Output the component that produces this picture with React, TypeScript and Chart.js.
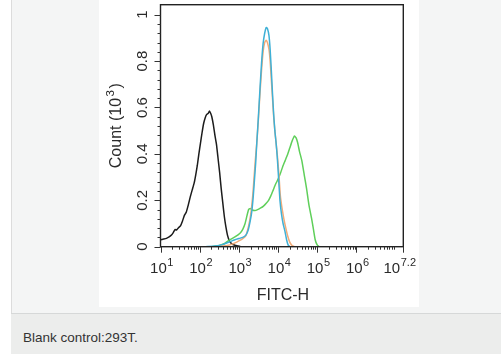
import React, { useEffect, useRef } from "react";
import { Chart, registerables } from "chart.js";

Chart.register(...registerables);

// x positions are given as log10(FITC-H); y values are Count (10^3)
const blackExp = [1.0, 1.08, 1.15, 1.22, 1.28, 1.33, 1.37, 1.41, 1.46, 1.51, 1.56, 1.61, 1.66, 1.71, 1.76, 1.81, 1.86, 1.9, 1.94, 1.98, 2.02, 2.06, 2.1, 2.14, 2.18, 2.22, 2.25, 2.28, 2.31, 2.35, 2.39, 2.43, 2.47, 2.51, 2.55, 2.59, 2.63, 2.67, 2.71, 2.76, 2.82, 2.9, 2.98, 3.05];
const blackCount = [0.03, 0.033, 0.036, 0.042, 0.05, 0.062, 0.074, 0.072, 0.082, 0.09, 0.11, 0.135, 0.15, 0.18, 0.215, 0.245, 0.275, 0.31, 0.35, 0.4, 0.445, 0.49, 0.53, 0.555, 0.57, 0.575, 0.585, 0.575, 0.56, 0.525, 0.48, 0.44, 0.38, 0.32, 0.25, 0.19, 0.13, 0.085, 0.05, 0.025, 0.012, 0.006, 0.003, 0.0];

const blueExp = [2.15, 2.4, 2.6, 2.75, 2.9, 3.0, 3.1, 3.18, 3.24, 3.29, 3.33, 3.37, 3.4, 3.43, 3.46, 3.5, 3.54, 3.58, 3.62, 3.66, 3.7, 3.73, 3.77, 3.8, 3.83, 3.86, 3.89, 3.92, 3.95, 3.98, 4.01, 4.05, 4.09, 4.13, 4.18, 4.22, 4.26, 4.3];
const blueCount = [0.0, 0.003, 0.01, 0.02, 0.03, 0.035, 0.04, 0.05, 0.072, 0.11, 0.15, 0.22, 0.29, 0.36, 0.45, 0.56, 0.68, 0.79, 0.875, 0.92, 0.945, 0.94, 0.91, 0.85, 0.76, 0.66, 0.57, 0.5, 0.45, 0.39, 0.31, 0.2, 0.14, 0.1, 0.065, 0.03, 0.007, 0.0];

const orangeExp = [2.4, 2.7, 2.85, 3.0, 3.1, 3.18, 3.23, 3.28, 3.32, 3.36, 3.39, 3.42, 3.46, 3.5, 3.54, 3.58, 3.62, 3.66, 3.7, 3.73, 3.77, 3.8, 3.83, 3.86, 3.89, 3.92, 3.95, 3.98, 4.02, 4.06, 4.1, 4.15, 4.2, 4.25, 4.3, 4.36, 4.42];
const orangeCount = [0.0, 0.005, 0.012, 0.025, 0.035, 0.048, 0.075, 0.115, 0.16, 0.23, 0.3, 0.37, 0.45, 0.55, 0.66, 0.76, 0.84, 0.88, 0.89, 0.88, 0.85, 0.8, 0.72, 0.64, 0.56, 0.5, 0.45, 0.4, 0.32, 0.22, 0.17, 0.12, 0.08, 0.045, 0.02, 0.005, 0.0];

const greenExp = [2.3, 2.5, 2.65, 2.77, 2.9, 3.03, 3.1, 3.16, 3.21, 3.25, 3.29, 3.34, 3.41, 3.48, 3.56, 3.63, 3.7, 3.76, 3.82, 3.88, 3.94, 4.0, 4.06, 4.12, 4.18, 4.24, 4.3, 4.36, 4.42, 4.46, 4.5, 4.55, 4.61, 4.67, 4.73, 4.79, 4.86, 4.91, 4.95, 5.0, 5.05];
const greenCount = [0.0, 0.005, 0.015, 0.03, 0.042, 0.058, 0.075, 0.1, 0.135, 0.16, 0.165, 0.158, 0.156, 0.16, 0.167, 0.175, 0.187, 0.2, 0.22, 0.245, 0.27, 0.29, 0.315, 0.345, 0.37, 0.395, 0.425, 0.455, 0.477, 0.47, 0.45, 0.41, 0.37, 0.31, 0.25, 0.18, 0.12, 0.07, 0.03, 0.008, 0.0];

const xTickExps = [1, 2, 3, 4, 5, 6, 7.2];
const xTickSups = ["1", "2", "3", "4", "5", "6", "7.2"];
const xMinorDecades = [1, 2, 3, 4, 5, 6];
const yTickValues = [0, 0.2, 0.4, 0.6, 0.8, 1];
const yTickLabels = ["0", "0.2", "0.4", "0.6", "0.8", "1"];
const xTitle = "FITC-H";
const yTitleMain = "Count (10";
const yTitleSup = "3";
const yTitleEnd = ")";
const caption = "Blank control:293T.";

const FONT = 'Arial, "Liberation Sans", sans-serif';

const toPoints = (exps: number[], vals: number[]) =>
  exps.map((e, i) => ({ x: Math.pow(10, e), y: vals[i] }));

const axesPlugin = {
  id: "flowAxes",
  afterDatasetsDraw(chart: any) {
    const { ctx, chartArea: a, scales } = chart;
    const xs = scales.x;
    const ys = scales.y;
    const cw = chart.width;
    ctx.save();
    // frame
    ctx.strokeStyle = "#222";
    ctx.lineWidth = 1.4;
    ctx.strokeRect(a.left, a.top, a.right - a.left, a.bottom - a.top);

    ctx.strokeStyle = "#333";
    ctx.lineWidth = 1;
    // y ticks
    for (let i = 0; i <= 25; i++) {
      const v = i * 0.04;
      const major = i % 5 === 0;
      const py = Math.round(ys.getPixelForValue(v)) + 0.5;
      ctx.beginPath();
      ctx.moveTo(a.left - (major ? 6 : 3), py);
      ctx.lineTo(a.left, py);
      ctx.stroke();
    }
    // x ticks
    xTickExps.forEach((e) => {
      const px = Math.round(xs.getPixelForValue(Math.pow(10, e))) + 0.5;
      ctx.beginPath();
      ctx.moveTo(px, a.bottom);
      ctx.lineTo(px, a.bottom + 6);
      ctx.stroke();
    });
    xMinorDecades.forEach((d) => {
      for (let k = 2; k <= 9; k++) {
        const px = Math.round(xs.getPixelForValue(k * Math.pow(10, d))) + 0.5;
        ctx.beginPath();
        ctx.moveTo(px, a.bottom);
        ctx.lineTo(px, a.bottom + 3);
        ctx.stroke();
      }
    });

    ctx.fillStyle = "#2a2a2a";
    // x tick labels
    xTickExps.forEach((e, i) => {
      const px = xs.getPixelForValue(Math.pow(10, e));
      ctx.font = `15px ${FONT}`;
      const w1 = ctx.measureText("10").width;
      ctx.font = `11px ${FONT}`;
      const w2 = ctx.measureText(xTickSups[i]).width;
      let start = px - (w1 + w2) / 2 + 1;
      if (start + w1 + w2 + 0.5 > cw - 3) start = cw - 3 - w1 - w2 - 0.5;
      ctx.textAlign = "left";
      ctx.textBaseline = "alphabetic";
      ctx.font = `15px ${FONT}`;
      ctx.fillText("10", start, a.bottom + 26);
      ctx.font = `11px ${FONT}`;
      ctx.fillText(xTickSups[i], start + w1 + 0.5, a.bottom + 19.5);
    });
    // y tick labels (rotated)
    yTickValues.forEach((v, i) => {
      const py = ys.getPixelForValue(v);
      ctx.save();
      ctx.translate(a.left - 14, py);
      ctx.rotate(-Math.PI / 2);
      ctx.font = `15px ${FONT}`;
      ctx.textAlign = "center";
      ctx.textBaseline = "alphabetic";
      ctx.fillText(yTickLabels[i], 0, 0);
      ctx.restore();
    });
    // x title
    ctx.font = `16px ${FONT}`;
    ctx.textAlign = "center";
    ctx.textBaseline = "alphabetic";
    ctx.fillText(xTitle, (a.left + a.right) / 2 + 1, a.bottom + 53);
    // y title
    ctx.save();
    ctx.translate(a.left - 40, (a.top + a.bottom) / 2);
    ctx.rotate(-Math.PI / 2);
    ctx.textAlign = "left";
    ctx.font = `16px ${FONT}`;
    const m1 = ctx.measureText(yTitleMain).width;
    const m3 = ctx.measureText(yTitleEnd).width;
    ctx.font = `11.5px ${FONT}`;
    const m2 = ctx.measureText(yTitleSup).width;
    const gap = 1.5;
    const x0 = -(m1 + m2 + m3 + 2 * gap) / 2;
    ctx.font = `16px ${FONT}`;
    ctx.fillText(yTitleMain, x0, 0);
    ctx.font = `11.5px ${FONT}`;
    ctx.fillText(yTitleSup, x0 + m1 + gap, -7);
    ctx.font = `16px ${FONT}`;
    ctx.fillText(yTitleEnd, x0 + m1 + m2 + 2 * gap, 0);
    ctx.restore();

    ctx.restore();
  },
};

export default function App() {
  const ref = useRef<HTMLCanvasElement>(null);
  useEffect(() => {
    const canvas = ref.current;
    if (!canvas) return;
    const chart = new Chart(canvas, {
      type: "line",
      data: {
        datasets: [
          { label: "blue", data: toPoints(blueExp, blueCount), borderColor: "#3fb0d6" },
          { label: "orange", data: toPoints(orangeExp, orangeCount), borderColor: "#f2ab78" },
          { label: "green", data: toPoints(greenExp, greenCount), borderColor: "#5fcf5a" },
          { label: "black", data: toPoints(blackExp, blackCount), borderColor: "#1c1c1c" },
        ],
      },
      options: {
        responsive: false,
        animation: false,
        layout: { padding: { left: 61.5, right: 15.7, top: 4.7, bottom: 60.3 } },
        plugins: { legend: { display: false }, tooltip: { enabled: false } },
        elements: {
          point: { radius: 0, hoverRadius: 0 },
          line: { borderWidth: 1.5, tension: 0.15, fill: false },
        },
        scales: {
          x: { type: "logarithmic", min: 10, max: Math.pow(10, 7.2), display: false },
          y: { type: "linear", min: 0, max: 1.043, display: false },
        },
      },
      plugins: [axesPlugin],
    });
    return () => chart.destroy();
  }, []);

  return (
    <div
      style={{
        position: "absolute",
        left: 0,
        top: 0,
        width: 501,
        height: 354,
        background: "#ffffff",
        overflow: "hidden",
        fontFamily: FONT,
      }}
    >
      <div
        style={{
          position: "absolute",
          left: 11,
          top: 0,
          width: 490,
          height: 313,
          background: "#f4f5f5",
          borderLeft: "1px solid #dcdcdc",
        }}
      />
      <div
        style={{
          position: "absolute",
          left: 11,
          top: 313,
          width: 490,
          height: 1,
          background: "#d6d8d8",
        }}
      />
      <div
        style={{
          position: "absolute",
          left: 11,
          top: 314,
          width: 490,
          height: 40,
          background: "#ecedec",
        }}
      />
      <div
        style={{
          position: "absolute",
          left: 23,
          top: 330,
          fontSize: 13.5,
          lineHeight: "16px",
          color: "#333",
          whiteSpace: "nowrap",
        }}
      >
        {caption}
      </div>
      <div
        style={{
          position: "absolute",
          left: 99,
          top: 0,
          width: 320,
          height: 307,
          background: "#ffffff",
        }}
      >
        <canvas ref={ref} width={320} height={307} style={{ display: "block", width: 320, height: 307 }} />
      </div>
    </div>
  );
}
